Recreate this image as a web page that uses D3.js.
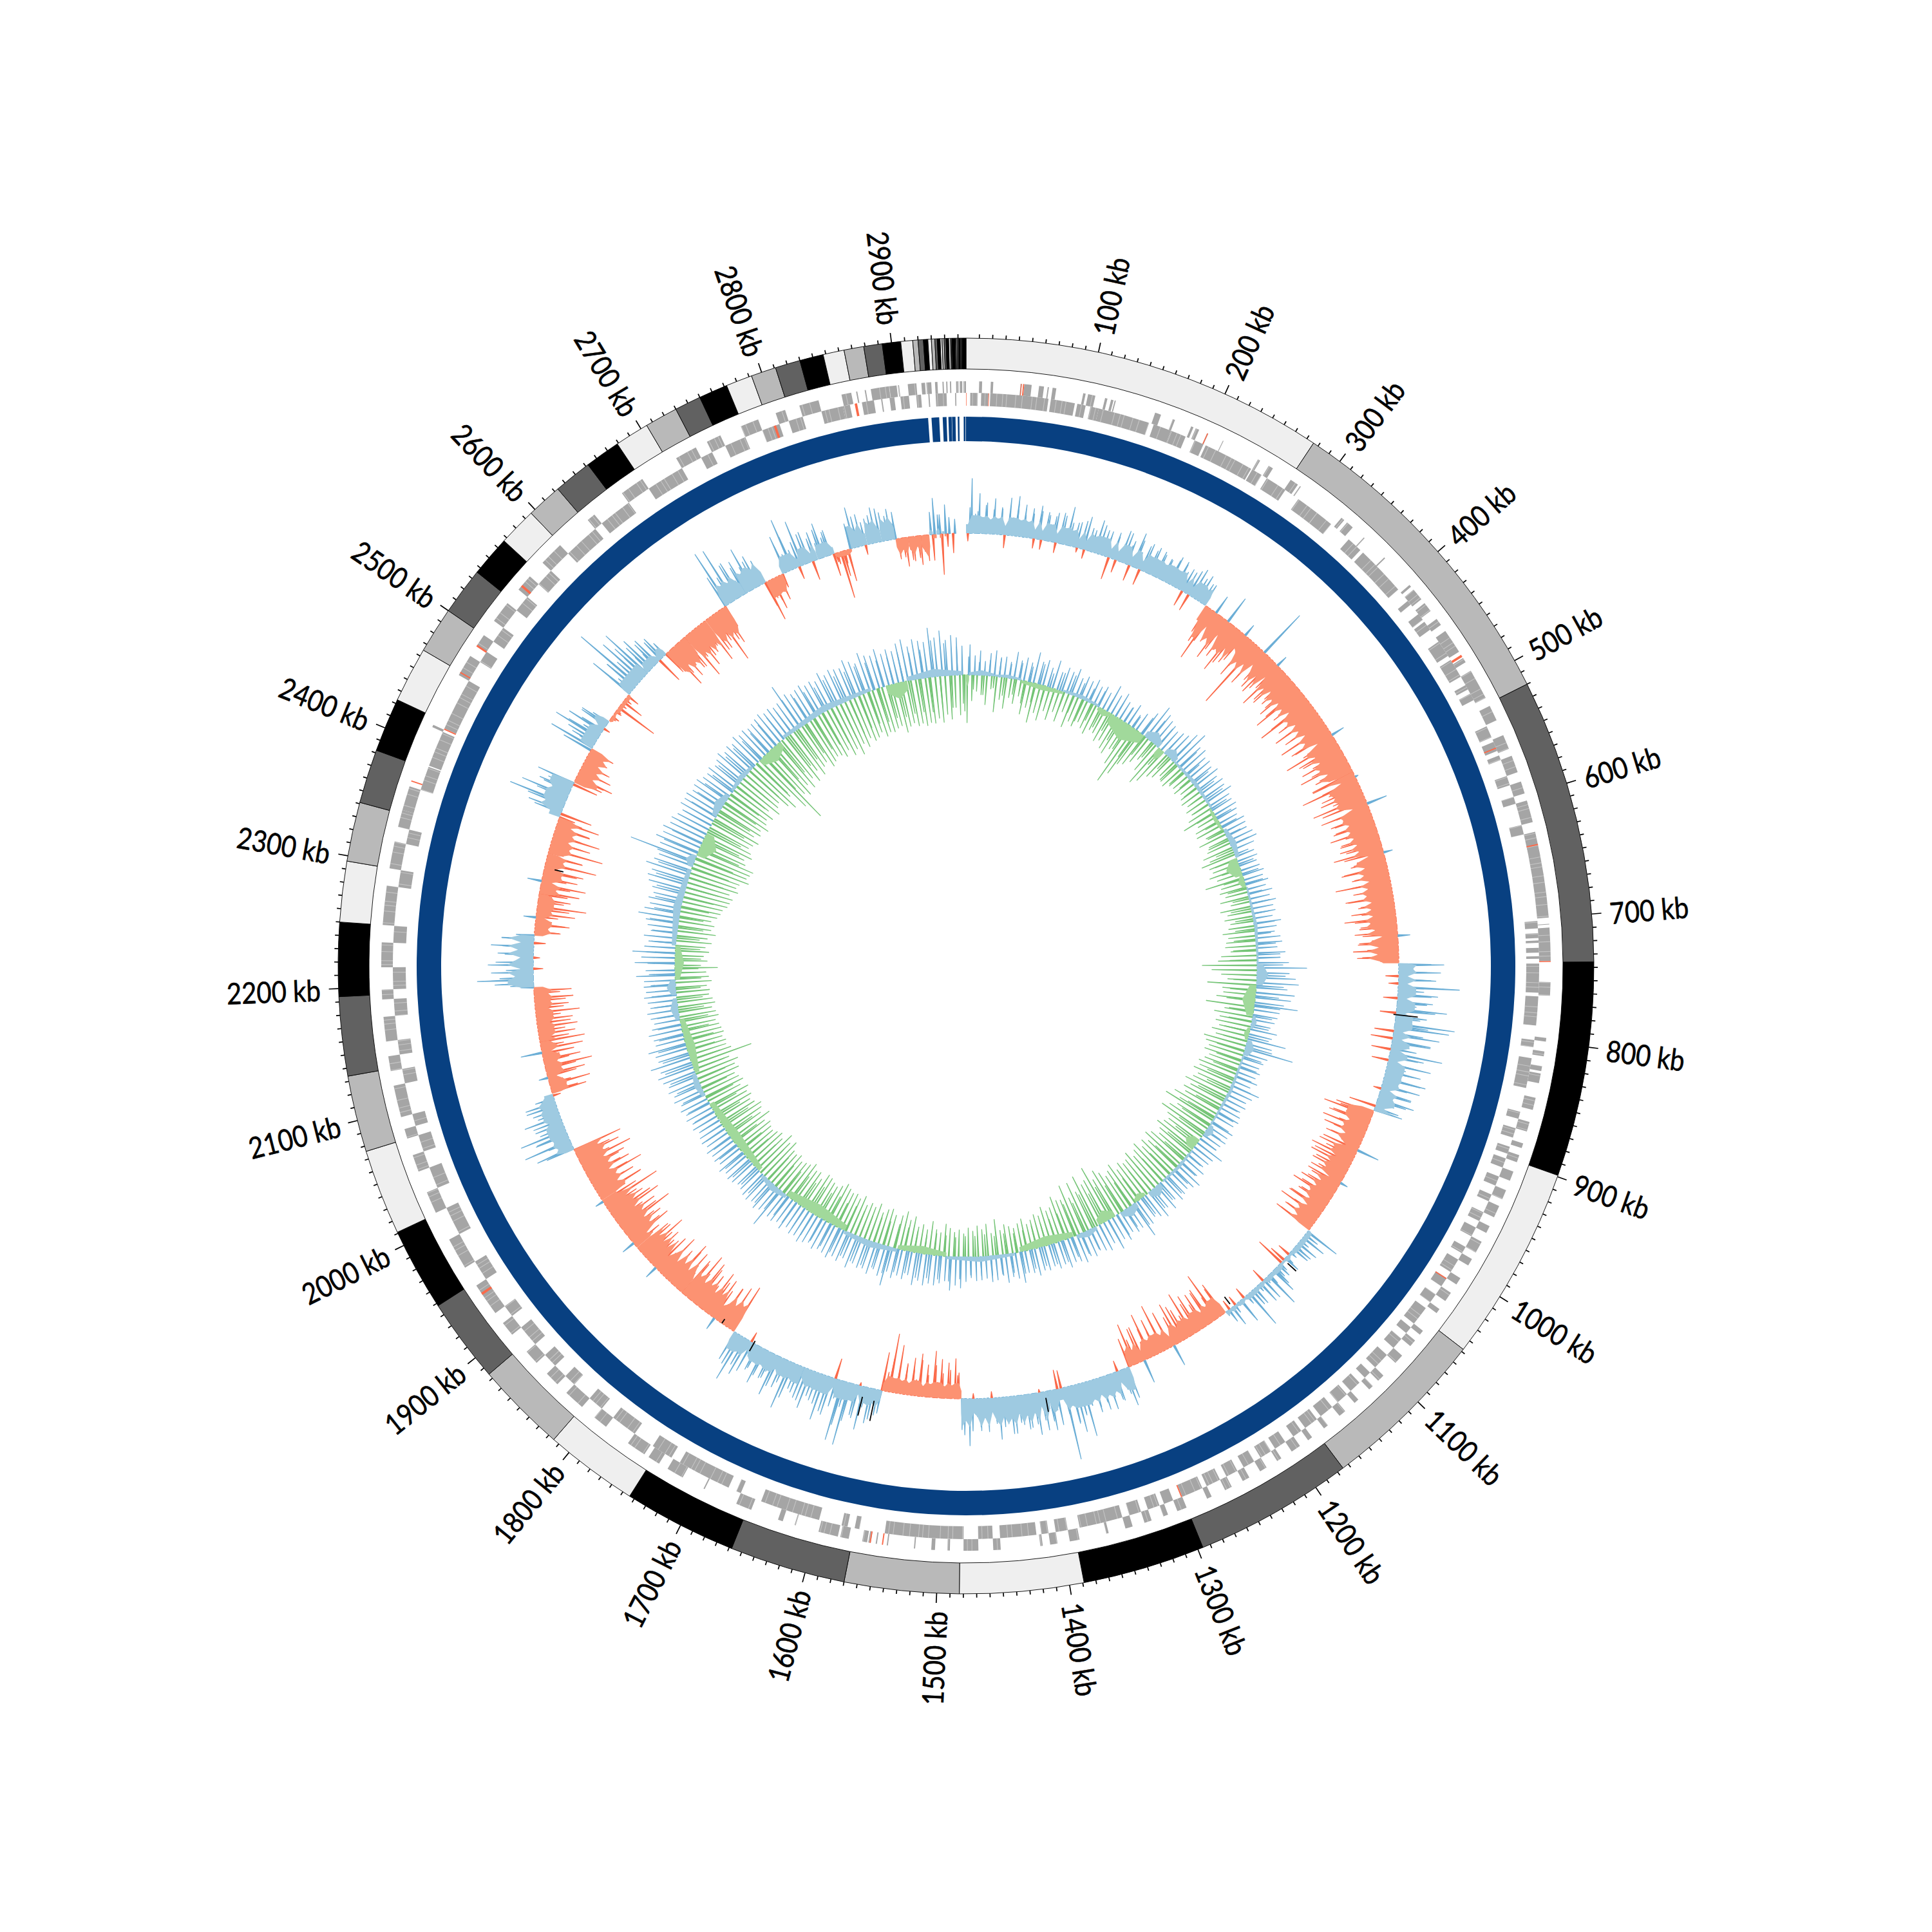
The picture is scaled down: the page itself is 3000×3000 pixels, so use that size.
<!DOCTYPE html>
<html><head><meta charset="utf-8"><style>html,body{margin:0;padding:0;background:#fff}svg{display:block}</style>
<script src="https://d3js.org/d3.v7.min.js"></script></head><body><svg id="c" width="3000" height="3000"></svg>
<script>
const genomeKb=2956;
// contig end positions (kb); fill cycles through bandColors
const contigEnds=[276,520,736,899,1048,1175,1296,1389,1483,1570,1658,1744,1815,1884,1948,2011,2076,2134,2194,2250,2296,2341,2382,2423,2465,2500,2536,2567,2596,2623,2652,2679,2705,2730,2750,2772,2792,2811,2830,2848,2864,2879,2893,2907,2916,2920,2924,2927.4,2930,2932.6,2934.4,2936.6,2938,2939.6,2941,2943,2944.3,2945,2945.6,2948,2948.6,2949.4,2950.4,2951.6,2952.1,2952.6,2953.2,2956];
const bandColors=["#efefef","#b9b9b9","#616161","#000000"];
// solid light band depth of the skew track, per contig (signed)
const contigFloors=[14,-26,-24,14,-20,4,-16,18,22,-12,14,14,-24,-26,-26,-24,14,-14,-14,20,-13,-16,-18,18,-18,11,-3,11,8,-24,-24,-24,18,18,-14,13,13,11,-4,18,18,18,-13,-14,-18,4,-6,5,-6,4,-4,0];
const ringPieces=[[0,2923.5],[2926.4,2933],[2936,2939.3],[2940.9,2943.7],[2944,2947],[2948.9,2950.3],[2954,2955.6]];
const genesOuter=[[10.6,13],[20,22],[44,45],[47,53],[59,63],[66,67],[70,73],[95,97],[99,105],[113,115],[118,120],[121,122],[155,160],[170,172],[186,188],[190,193],[200,201],[214,214.6],[246,248],[256,260],[277,284],[286,287],[328,331],[334,340],[352,353],[375,376],[405,407],[410,420],[424,432],[440,446],[452,472],[478,482],[490,515],[522,535],[548,560],[566,580],[588,598],[604,622],[630,700],[705,705.6],[708,735],[752,763],[797,800],[808,812],[820,824],[826,834],[846,856],[866,874],[884,888],[894,900],[908,916],[924,932],[938,948],[956,962],[970,980],[986,992],[1004,1010],[1018,1026],[1034,1038],[1056,1060],[1066,1072],[1082,1090],[1104,1110],[1116,1120],[1132,1136],[1146,1152],[1164,1168],[1180,1184],[1192,1200],[1210,1214],[1224,1230],[1240,1246],[1256,1262],[1274,1278],[1296,1304],[1312,1316],[1326,1332],[1342,1348],[1362,1364],[1386,1394],[1404,1410],[1416,1418],[1450,1456],[1468,1480],[1491,1493],[1503,1506],[1519,1520],[1541,1542],[1550,1551],[1555,1557],[1558,1562],[1573,1580],[1582,1598],[1617,1618],[1628,1632],[1655,1668],[1696,1697],[1716,1730],[1738,1748],[1752,1768],[1790,1802],[1815,1832],[1842,1854],[1866,1878],[1896,1908],[1918,1945],[1962,1988],[2012,2030],[2048,2062],[2076,2084],[2094,2120],[2132,2144],[2156,2176],[2190,2198],[2216,2236],[2250,2282],[2296,2318],[2330,2344],[2344,2364],[2415,2417],[2462,2480],[2490,2500],[2514,2532],[2546,2560],[2575,2595],[2625,2632],[2660,2680],[2712,2730],[2740,2752],[2770,2785],[2800,2808],[2820,2836],[2855,2863],[2867,2868],[2874,2875],[2879,2894],[2894,2900],[2901,2902],[2909,2916],[2920,2923],[2924,2928],[2931,2933],[2937,2938],[2940,2941],[2943,2944],[2948,2950],[2951,2953],[2954,2956]];
const genesInner=[[3.5,9.7],[12.5,18.5],[20,68],[70,90],[92,99],[103,110],[110,153],[157,172],[172,185],[193,201],[203,245],[246,255],[260,278],[291,310],[310,325],[344,357],[360,402],[414,418],[428,434],[436,444],[456,470],[474,490],[498,502],[506,512],[536,546],[550,558],[562,566],[580,588],[598,604],[622,630],[702,708],[712,716],[718,720],[724,728],[731,733],[737,761],[764,788],[800,806],[815,840],[860,866],[874,882],[890,896],[900,908],[916,924],[932,938],[948,956],[962,970],[980,986],[992,1004],[1010,1018],[1026,1034],[1040,1056],[1060,1066],[1072,1082],[1090,1104],[1110,1116],[1122,1132],[1136,1146],[1152,1164],[1168,1180],[1184,1192],[1200,1210],[1214,1224],[1230,1240],[1246,1256],[1262,1274],[1278,1296],[1304,1312],[1316,1326],[1332,1342],[1348,1384],[1394,1404],[1410,1416],[1420,1450],[1456,1468],[1480,1545],[1566,1570],[1576,1581],[1600,1650],[1668,1672],[1679,1724],[1732,1750],[1768,1790],[1802,1815],[1832,1842],[1854,1866],[1878,1896],[1908,1918],[1945,1962],[1988,2012],[2030,2048],[2062,2076],[2084,2094],[2120,2132],[2144,2156],[2176,2190],[2198,2216],[2236,2250],[2282,2296],[2318,2330],[2364,2384],[2385,2415],[2418,2462],[2480,2490],[2500,2514],[2532,2546],[2560,2575],[2595,2625],[2632,2660],[2680,2712],[2730,2740],[2752,2770],[2785,2800],[2808,2820],[2836,2854],[2854,2860],[2870,2880],[2886,2887],[2893,2897],[2902,2909],[2915,2919],[2925,2926],[2931,2940],[2947,2948]];
const redOuter=[[44.4,45],[46,47],[200,200.8],[475,477],[640,641],[735,735.8],[1545,1546],[1555,1556],[1936,1938],[2368,2369],[2464,2465],[2489,2490.5],[2549,2551]];
const redInner=[[0,0.4],[18.5,19],[555,556],[1010,1011],[1296,1297],[2417,2418],[2795,2797],[2864,2866]];
// white hairlines between genes along the gene rows, in px of arc
const geneDash=[1.1,9,1.1,14,1.1,6,1.1,11,1.1,17,1.1,8,1.1,5,1.1,13];
// GC skew per 100 kb row, evenly spaced in each row; + outward (blue), - inward (orange)
const skewRows=[
[-12,85,30,62,25,48,22,55,24,40,-20,58,28,62,25,50,24,46,-15,52,-15,44,26,40,-16],
[48,25,60,24,38,-7,44,-14,36,24,52,28,40,30,-35,42,-20,28,48,30,-25,55,26,-25,45],
[26,44,26,38,24,35,28,46,26,40,30,-25,36,-27,48,26,44,22,35,-25,-60,-87,30,-50,-40],
[-72,44,-62,-45,-80,-35,-58,20,-30,-52,-40,-116,-35,-68,79,-40,-62,-35,-55,18,-78,-40,-66,-35,-58],
[-42,-70,-38,-85,-40,-60,-34,-92,-45,-66,-38,-79,-40,-58,-35,-82,-42,-70,21,-48,-88,-40,-65,-38,-72],
[-44,-80,-36,-60,-40,-70,5,-92,-50,-42,-68,-40,-85,-42,32,-78,-44,-66,-38,-62,-40,-74,-38,-60,-36],
[-65,-36,-78,14,-44,-55,-34,-72,-38,-58,-32,-86,-36,-60,-40,-74,-34,-52,-36,-68,-35,-80,-40,-56,-34],
[-66,19,-40,-62,-30,-70,-32,-64,-28,70,22,65,-20,50,-15,95,40,62,-22,55,30,78,-25,48,26],
[93,85,-30,72,-34,60,28,-30,82,45,-26,68,30,55,26,66,24,60,-12,50,22,58,28,-42,45],
[-60,-78,-40,-66,-30,-72,-35,-50,-28,-58,-30,35,-62,-34,-70,-26,-66,-30,-58,-32,-55,12,-48,-28,-60],
[-30,-68,-34,-52,-28,-62,-25,-70,-32,-55,-28,-64,56,10,40,8,35,12,28,6,-20,14,-26,-46,22],
[18,42,6,57,10,-22,36,5,30,8,62,12,-18,40,6,-15,33,-16,8,-55,-30,-79,-25,-60,-22],
[-58,-30,-62,-24,-72,-28,-50,-22,-66,-30,34,-60,-24,-77,-30,-58,-26,-72,-28,37,-55,-22,-67,-25,50],
[60,32,-17,44,28,55,30,40,26,52,30,38,85,48,75,58,30,114,-28,-30,32,62,28,60,-5],
[65,30,52,32,46,28,58,34,42,30,65,36,-10,44,30,50,28,-8,73,34,48,-40,-62,-20,-55],
[-18,-60,-24,-72,-20,-50,-16,-66,-25,-58,-18,-48,-20,-75,-22,-91,-30,-60,40,22,55,25,68,-5,48],
[26,99,40,95,30,-32,60,28,72,26,45,24,62,22,50,28,40,24,77,26,48,20,66,30,44],
[24,58,26,42,22,-16,60,24,76,28,48,-78,-40,-70,-34,-62,-30,20,-66,-36,-72,-32,-60,-38,-75],
[-34,-81,-38,-65,-36,-70,-32,-78,-36,-58,-30,-73,-38,20,-54,-34,-63,-36,-80,-38,-60,-34,21,-72,-40],
[-66,-38,-90,-42,-70,-36,-84,-40,-62,-34,-95,13,-44,-74,-36,-68,-40,-88,-34,-72,-38,-60,-36,-85,-40],
[-70,-36,-78,60,22,75,24,50,74,28,45,20,58,25,40,22,48,20,-12,-55,-25,-64,-22,14,-60],
[-24,-74,-20,-58,-26,33,-65,-22,-70,-18,-57,-24,-62,-20,-56,-26,-68,-20,-52,-24,-60,-22,-58,20,60],
[87,28,65,-15,70,30,-10,55,24,66,-18,50,28,-40,-20,-53,-25,19,-60,-22,-76,-25,-50,-20,-62],
[-24,-70,22,-55,-28,-62,-20,-80,-26,-55,-24,-85,-30,-62,-25,-74,-28,-55,-22,-66,-25,-50,55,30,91],
[35,76,28,52,40,60,-45,-60,-24,-52,-25,-45,-22,-35,-25,-40,73,26,50,76,30,60,-10,45,28],
[-5,-12,-3,-8,-67,-10,-35,-6,-20,73,28,55,114,35,80,42,86,30,60,25,48,-42,40,25,-40],
[-70,-35,-62,-40,-55,-32,-78,-38,-66,-35,-50,-36,-72,-40,-58,-34,-86,-40,-62,-36,93,30,90,28,60],
[25,55,30,70,45,28,40,-64,-30,-50,-25,-40,-22,60,28,83,30,-20,72,26,50,-30,45,25,55],
[30,40,-35,-18,-74,-20,-50,35,64,25,50,-15,40,30,55,22,45,28,48,24,-32,-18,-45,-20,-38],
[-16,-45,-25,-40,35,56,30,-63,45,25,-30,0,0,0]];
// second, shorter set of skew spikes sitting between the main ones
const skewFineRows=[
[40,34,44,38,42,36,50,34,38,44,40,46],[44,36,40,52,34,46,40,36,50,38,44,40],[38,42,36,40,44,38,42,36,34,-45,-55,-40],
[-55,-48,-64,-50,-70,-46,-60,-52,-66,-48,-62,-50],[-58,-66,-50,-72,-54,-60,-68,-48,-64,-56,-70,-52],[-60,-52,-70,-58,-64,-50,-72,-54,-60,-66,-50,-62],
[-56,-62,-50,-68,-54,-60,-48,-70,-56,-52,-64,-58],[-54,-60,-48,-56,50,44,58,40,52,46,60,38],[52,46,60,40,54,48,44,58,40,50,46,38],
[-52,-60,-46,-66,-50,-58,-48,-62,-54,-44,-56,-50],[-54,-48,-60,-46,-52,-56,24,16,30,12,26,14],[30,18,36,12,28,16,34,14,22,-48,-40,-56],
[-42,-50,-36,-58,-46,-40,-54,-38,-48,-56,-40,-46],[40,46,36,52,44,38,50,60,42,56,48,44],[48,54,42,58,46,40,52,44,50,56,-36,-44],
[-38,-50,-34,-56,-40,-46,-36,-52,36,48,32,52],[60,70,44,56,48,40,52,44,58,38,50,42],[44,38,50,46,52,-56,-46,-62,-50,-58,-44,-66],
[-50,-60,-48,-66,-52,-46,-64,-50,-56,-62,-48,-58],[-56,-68,-50,-72,-54,-60,-76,-52,-64,-58,-70,-50],[-56,45,36,52,40,46,34,48,30,-42,-34,-46],
[-48,-40,-50,-36,-46,-42,-52,-38,-44,-48,-40,36],[52,42,58,44,48,50,-38,-46,-34,-50,-40,-44],[-46,-38,-52,-42,-56,-40,-50,-44,-54,-38,44,60],
[50,44,-40,-46,-36,-42,-34,48,40,54,38,46],[-8,-10,-5,-12,40,56,46,62,50,44,36,-38],[-50,-44,-56,-46,-52,-42,-58,-48,-54,52,44,58],
[46,40,52,-40,-36,-30,44,54,40,48,36,46],[38,-14,-40,40,48,36,44,52,38,42,-30,-36],[-34,-28,-40,30,-20,22,0]];
// GC content per 100 kb row; + outward (blue), - inward (green)
const gcRows=[
[-74,47,-40,30,-25,38,-30,22,-45,35,-20,40,-55,28,-35,32,-48,25,-30,42,-38,30,-25,36,-52],
[30,-40,48,-62,35,-45,40,-55,30,-38,44,-50,28,-35,38,-48,34,-30,42,-52,30,-40,36,-45,32],
[-35,38,-42,30,-48,34,-38,28,-40,44,-50,32,-45,40,-55,30,-60,25,-48,35,-70,22,-98,30,-80],
[-60,40,-55,58,-45,50,-35,45,-50,42,-69,38,-60,35,-45,45,-40,55,-30,63,-35,45,-38,48,-30],
[40,-28,42,-32,38,-25,44,-30,36,-34,41,-28,38,-35,45,-30,36,-40,35,-53,38,-32,34,-40,30],
[-42,38,-30,36,-45,34,-32,40,-38,43,-48,35,-40,-55,30,-45,32,-42,28,-50,30,-40,34,-61,30],
[-38,36,-42,30,-35,38,-45,32,-30,40,-48,34,-38,36,-44,30,-36,42,-40,34,-50,30,-42,38,-46],
[40,-48,32,-40,44,-55,36,-60,49,-85,77,-70,50,-55,60,-45,65,-76,48,-52,60,-50,55,-60,45],
[67,-75,40,-45,38,-60,35,-50,30,-55,42,-48,36,-58,60,-50,40,-67,76,-62,38,-55,34,-60,30],
[-50,34,-55,30,-62,36,-58,28,-65,46,-55,38,-60,32,-70,35,-58,30,-66,34,-60,36,-75,32,-62],
[-85,38,-60,34,-70,36,-80,32,-65,30,-58,47,-62,36,-70,34,-60,30,-55,38,-66,32,-72,45,-60],
[40,-68,35,-60,38,-72,42,-65,34,-58,45,-70,36,-62,47,-60,40,-66,35,-58,42,-72,58,-65,38],
[-60,40,-70,35,-78,44,-66,38,-90,50,-72,36,-68,44,-85,40,-62,36,-80,42,-58,38,-81,45,-60],
[40,-62,38,-70,44,-55,36,-52,40,-60,34,-48,38,-52,36,-45,42,-40,36,-50,34,-44,48,-38,40],
[-42,36,-46,44,-38,30,-56,38,-35,40,-50,34,-42,36,-48,37,-40,32,-45,38,-36,48,-42,44,-38],
[52,-44,38,-50,42,-36,46,-40,44,-52,48,-38,42,-45,50,-40,36,-55,44,-48,40,-60,46,-52,38],
[61,-50,48,-58,40,-55,50,-48,44,-60,46,-52,42,-56,52,-50,40,-62,48,-55,44,-60,50,-58,46],
[-62,44,-67,48,-60,42,-55,46,-58,50,-62,44,-64,46,-52,40,-60,48,-58,42,-66,46,-60,44,-58],
[66,-55,44,-62,48,-58,42,-60,46,-71,44,-64,40,-74,38,-60,42,-66,44,-62,40,-58,46,-60,38],
[-64,42,-58,40,-72,44,-60,38,-66,42,-70,40,-62,36,-58,42,-64,38,-60,44,-66,40,-56,45,-64],
[40,-60,48,-56,44,-66,50,-62,46,-70,52,-58,57,-97,50,-66,63,-60,48,-62,50,-58,59,-62,45],
[-60,46,-58,52,-54,45,-60,40,-57,44,-52,48,-58,42,-55,45,-50,50,-52,46,-48,49,-56,48,-52],
[60,-48,45,-66,-40,62,-50,52,-44,66,-52,48,-46,42,-55,50,-48,40,-60,46,-52,50,-56,63,-50],
[55,-58,48,-62,52,-64,46,-70,50,-72,58,-75,62,-68,58,-80,70,-75,60,-78,55,-91,105,-85,60],
[-88,70,-91,62,-75,66,-70,58,-80,60,-75,54,-68,50,-72,58,-78,56,-66,58,-74,52,-70,55,-80],
[56,-72,50,-68,48,-75,52,-62,46,-78,50,-70,55,-66,48,-80,52,-90,48,-72,55,-100,50,-127,52],
[-85,48,-92,50,-78,52,-88,55,-75,50,-85,52,-70,48,-82,50,-72,75,-68,55,-80,50,-75,52,-70],
[55,-72,50,-78,52,-70,48,-82,58,-75,50,-87,55,-72,52,-80,50,-68,60,-75,54,-72,48,-66,62],
[-75,55,-70,52,-72,60,-68,50,-66,55,-78,50,-70,60,-66,65,-72,52,-69,62,-74,58,-70,55,-72],
[76,-65,60,-72,70,-60,55,-68,62,-50,58,-62,45,-56]];
// second, shorter set of GC spikes sitting between the main ones (per 100 kb row)
const gcFineRows=[
[28,-22,20,-30,24,-18,30,-28,22,-24,26,-35],[24,-30,32,-26,22,-34,28,-24,30,-28,24,-36],[22,-28,26,-32,20,-30,24,-38,26,-45,20,-50],
[30,-35,38,-28,36,-30,42,-25,40,-34,36,-28],[26,-20,30,-24,28,-22,32,-26,28,-30,26,-24],[26,-28,24,-34,30,-28,22,-36,24,-30,26,-32],
[28,-30,22,-26,30,-32,26,-28,32,-30,24,-34],[30,-36,36,-42,40,-44,44,-36,42,-40,36,-44],[40,-38,30,-36,28,-40,32,-38,42,-44,30,-40],
[28,-40,26,-44,32,-38,28,-46,26,-42,28,-48],[30,-50,26,-46,30,-42,32,-46,26,-40,30,-46],[30,-44,34,-46,32,-42,34,-46,32,-42,40,-44],
[32,-48,36,-54,38,-50,34,-56,34,-48,34,-52],[32,-42,34,-38,32,-36,30,-36,30,-32,34,-30],[30,-32,32,-30,30,-34,30,-32,28,-32,34,-30],
[38,-32,36,-34,36,-30,38,-34,34,-36,36,-38],[42,-38,38,-40,40,-38,40,-40,38,-42,40,-40],[38,-44,38,-42,38,-44,36,-42,38,-44,36,-42],
[38,-42,40,-46,36,-50,34,-46,36,-44,36,-42],[34,-44,32,-46,34,-48,32,-42,34,-44,36,-46],[36,-42,38,-46,42,-50,44,-48,42,-44,44,-46],
[38,-42,36,-44,34,-40,36,-40,38,-38,38,-40],[40,-36,42,-40,44,-38,38,-36,38,-40,44,-38],[40,-44,42,-48,44,-52,50,-56,52,-60,60,-62],
[56,-66,50,-60,46,-56,46,-54,44,-56,44,-58],[42,-54,40,-56,42,-54,42,-60,42,-66,40,-70],[40,-62,42,-60,42,-58,40,-56,50,-54,42,-56],
[42,-56,40,-60,44,-58,42,-58,42,-54,44,-52],[44,-54,42,-52,42,-54,46,-52,42,-52,44,-54],[56,-48,50,-50,44,-44]];
// GC content band segments: start, end, signed depth
const gcBands=[[0,5,-18],[5,45,8],[45,90,5],[90,160,-8],[160,222,6],[222,246,-10],[246,310,-28],[310,340,18],[340,352,-20],[352,375,16],[375,470,6],[470,510,-6],[510,560,10],[560,590,-22],[590,610,-10],[610,736,5],[736,770,18],[770,820,-20],[820,840,8],[840,860,-8],[860,885,14],[885,1010,5],[1010,1030,12],[1040,1060,-20],[1060,1130,5],[1135,1160,15],[1165,1185,-10],[1185,1215,15],[1225,1255,-18],[1260,1295,10],[1300,1390,-15],[1400,1510,8],[1510,1590,-12],[1590,1680,10],[1680,1790,-18],[1790,1840,10],[1850,1985,-15],[2000,2040,10],[2040,2130,-14],[2130,2165,12],[2170,2195,14],[2195,2250,-14],[2250,2375,12],[2380,2400,14],[2400,2440,-25],[2470,2510,14],[2520,2570,8],[2585,2630,-20],[2640,2800,10],[2825,2860,-25],[2860,2950,12]];
// short black marks in the skew track: kb, start value, end value
const blackMarks=[[792,-4,34],[1090,8,26],[1166,-6,-20],[1392,10,32],[1576,18,50],[1589,16,46],[1719,-4,14],[1760,-8,0],[2325,-16,-30]];
const tickStep=10, majorStep=100;

const svg=d3.select("#c"), g=svg.append("g").attr("transform","translate(1500,1500)");
const theta=d3.scaleLinear().domain([0,genomeKb]).range([0,2*Math.PI]);
const skewR=d3.scaleLinear().domain([-140,140]).range([532,812]);
const gcR=d3.scaleLinear().domain([-140,140]).range([312,592]);
const toBins=rows=>rows.flatMap((row,i)=>{const span=Math.min(100,genomeKb-i*100);return row.map((v,j)=>({kb:i*100+(j+.5)/row.length*span,v}));}).filter(d=>d.v!=0);
const arc=(r0,r1)=>d3.arc().innerRadius(r0).outerRadius(r1).startAngle(d=>theta(d[0])).endAngle(d=>theta(d[1]));

// contig band
const starts=[0,...contigEnds.slice(0,-1)];
const contigs=contigEnds.map((e,i)=>[starts[i],e,i]);
g.append("g").selectAll("path").data(contigs).join("path").attr("d",arc(927,975)).attr("fill",d=>bandColors[d[2]%4]).attr("stroke","#000").attr("stroke-width",0.9);
// ticks
const ticks=d3.range(tickStep,genomeKb,tickStep);
g.append("g").selectAll("line").data(ticks).join("line")
 .attr("x1",d=>975*Math.sin(theta(d))).attr("y1",d=>-975*Math.cos(theta(d)))
 .attr("x2",d=>(975+(d%majorStep==0?15:6))*Math.sin(theta(d))).attr("y2",d=>-(975+(d%majorStep==0?15:6))*Math.cos(theta(d)))
 .attr("stroke","#000").attr("stroke-width",1.7);
// labels
const labels=ticks.filter(d=>d%majorStep==0);
g.append("g").selectAll("text").data(labels).join("text")
 .attr("transform",d=>{const a=theta(d)*180/Math.PI;return `rotate(${a}) translate(0,-1003) rotate(${a<180?-90:90}) scale(0.87,1)`;})
 .attr("text-anchor",d=>theta(d)<Math.PI?"start":"end").attr("dominant-baseline","central")
 .attr("font-family","Lato").attr("font-size",46).attr("fill","#000").attr("stroke","#000").attr("stroke-width",0.6).text(d=>d+" kb");
// genes
[[genesOuter,890,908,"#a5a5a5"],[genesInner,870,890,"#a5a5a5"]].forEach(([arr,a,b,c])=>{
 g.append("g").selectAll("path").data(arr).join("path").attr("d",arc(a,b)).attr("fill",c);});
[[899,18],[880,20]].forEach(([r,w])=>g.append("circle").attr("r",r).attr("fill","none").attr("stroke","#fff").attr("stroke-opacity",0.35).attr("stroke-width",w).attr("stroke-dasharray",geneDash.join(" ")));
[[redOuter,890,908,"#fb6a4a"],[redInner,870,890,"#fb6a4a"]].forEach(([arr,a,b,c])=>{
 g.append("g").selectAll("path").data(arr).join("path").attr("d",arc(a,b)).attr("fill",c);});
// solid ring
g.append("g").selectAll("path").data(ringPieces).join("path").attr("d",arc(815,853)).attr("fill","#084081");

// spikes: narrow triangles from the baseline to each value
const spikeLine=d3.lineRadial().angle(d=>theta(d[0])).radius(d=>d[1]);
function spikes(bins,R,pos,neg,w){
 g.append("g").selectAll("path").data(bins).join("path")
  .attr("d",d=>spikeLine([[d.kb-w,R(0)],[d.kb,R(d.v)],[d.kb+w,R(0)]])+"Z")
  .attr("fill",d=>d.v>0?pos:neg).attr("stroke",d=>d.v>0?pos:neg).attr("stroke-width",1.3).attr("stroke-linejoin","round");
}
const skewBins=toBins(skewRows), skewFine=toBins(skewFineRows);
spikes(skewFine,skewR,"#6baed6","#fb6a4a",1.0);
spikes(skewBins,skewR,"#6baed6","#fb6a4a",1.0);
// jagged light edge of the solid skew band, per contig
contigs.forEach(c=>{
 const f=contigFloors[c[2]]; if(!f) return;
 const s=Math.sign(f);
 const pts=skewBins.filter(d=>d.kb>=c[0]&&d.kb<c[1]).map(d=>({kb:d.kb,o:d.v*s>0?Math.min(Math.max(Math.abs(d.v),Math.abs(f)),Math.abs(f)*2):Math.abs(f)}));
 const all=[{kb:c[0],o:Math.abs(f)},...pts,{kb:c[1],o:Math.abs(f)}];
 g.append("path").datum(all).attr("d",d3.areaRadial().angle(d=>theta(d.kb)).innerRadius(skewR(0)).outerRadius(d=>skewR(s*d.o))).attr("fill",s>0?"#9ecae1":"#fc9272");
});
g.append("g").selectAll("line").data(blackMarks).join("line")
 .attr("x1",d=>skewR(d[1])*Math.sin(theta(d[0]))).attr("y1",d=>-skewR(d[1])*Math.cos(theta(d[0])))
 .attr("x2",d=>skewR(d[2])*Math.sin(theta(d[0]))).attr("y2",d=>-skewR(d[2])*Math.cos(theta(d[0])))
 .attr("stroke","#000").attr("stroke-width",1.8);
// GC content track
spikes(toBins(gcRows),gcR,"#6baed6","#74c476",0.8);
spikes(toBins(gcFineRows),gcR,"#6baed6","#74c476",0.7);
// tapered light bands of the GC track
const taper=d3.areaRadial().angle(d=>theta(d[0])).innerRadius(gcR(0)).outerRadius(d=>gcR(d[1]));
g.append("g").selectAll("path").data(gcBands).join("path")
 .attr("d",d=>taper([[d[0],d[2]*0.5],[(d[0]+d[1])/2,d[2]],[d[1],d[2]*0.5]]))
 .attr("fill",d=>d[2]>0?"#9ecae1":"#a1d99b");
</script></body></html>
